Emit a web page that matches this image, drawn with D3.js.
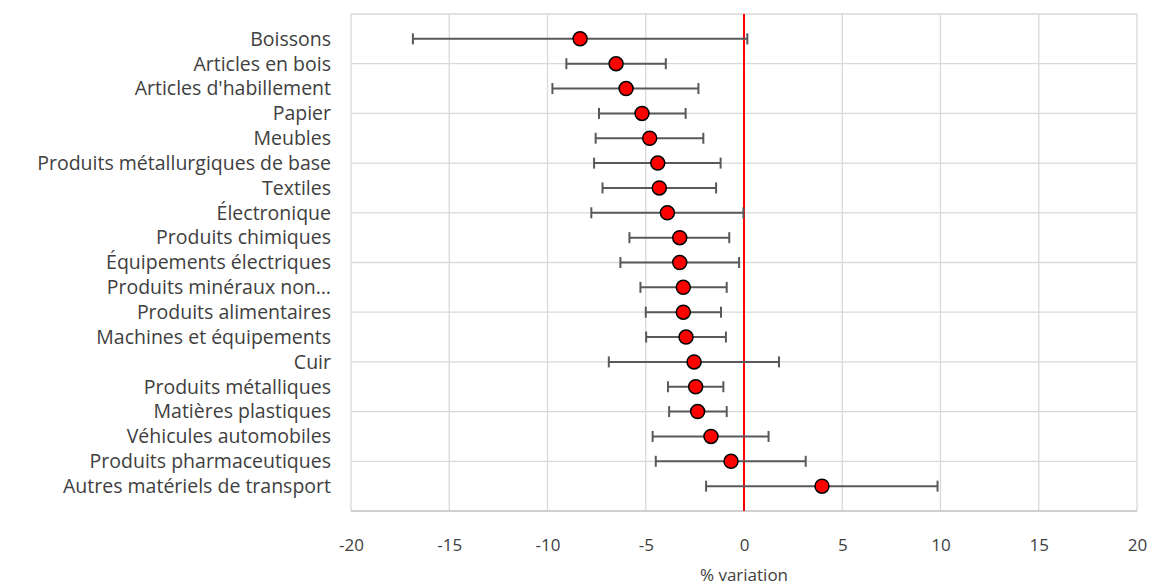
<!DOCTYPE html>
<html lang="fr">
<head>
  <meta charset="UTF-8" />
  <title>% variation par secteur</title>
  <style>
    body { margin: 0; background: #fff; font-family: "Open Sans", sans-serif; }
    svg text { fill: #404040; }
  </style>
</head>
<body>
  <div id="chart"></div>
  <script src="https://d3js.org/d3.v7.min.js"></script>
  <script>
    // sectors, top to bottom
    const sectors = [
      'Boissons', 'Articles en bois', "Articles d'habillement", 'Papier', 'Meubles',
      'Produits métallurgiques de base', 'Textiles', 'Électronique', 'Produits chimiques',
      'Équipements électriques', 'Produits minéraux non…', 'Produits alimentaires',
      'Machines et équipements', 'Cuir', 'Produits métalliques', 'Matières plastiques',
      'Véhicules automobiles', 'Produits pharmaceutiques', 'Autres matériels de transport'
    ];
    const estimate = [-8.34, -6.51, -6.0, -5.19, -4.8, -4.39, -4.31, -3.9, -3.27, -3.27,
      -3.09, -3.09, -2.95, -2.54, -2.46, -2.36, -1.68, -0.66, 3.97];
    const lower = [-16.85, -9.04, -9.75, -7.38, -7.55, -7.63, -7.2, -7.77, -5.83, -6.29,
      -5.27, -5.0, -4.98, -6.88, -3.87, -3.81, -4.65, -4.49, -1.93];
    const upper = [0.17, -3.98, -2.32, -2.97, -2.07, -1.19, -1.42, -0.03, -0.75, -0.25,
      -0.88, -1.17, -0.92, 1.78, -1.05, -0.88, 1.25, 3.14, 9.85];
    const xTicks = [-20, -15, -10, -5, 0, 5, 10, 15, 20];
    const yGrid = d3.range(0, 21, 2);

    const width = 1153, height = 585;
    const plot = { left: 351, right: 1137, top: 14, bottom: 511 };

    const rows = sectors.map((s, i) => ({
      name: s, est: estimate[i], lo: lower[i], hi: upper[i], pos: sectors.length - i
    }));

    const svg = d3.select('#chart').append('svg')
      .attr('width', width).attr('height', height);

    const x = d3.scaleLinear().domain([-20, 20]).range([plot.left, plot.right]);
    const y = d3.scaleLinear().domain([0, 20]).range([plot.bottom, plot.top]);

    // grid
    svg.append('g').selectAll('line.v').data(xTicks).enter().append('line')
      .attr('x1', d => x(d)).attr('x2', d => x(d))
      .attr('y1', plot.top).attr('y2', plot.bottom)
      .attr('stroke', '#d9d9d9').attr('stroke-width', 1.3);
    svg.append('g').selectAll('line.h').data(yGrid).enter().append('line')
      .attr('x1', plot.left).attr('x2', plot.right)
      .attr('y1', d => y(d)).attr('y2', d => y(d))
      .attr('stroke', d => d === 0 ? '#bfbfbf' : '#d9d9d9').attr('stroke-width', 1.3);

    // bottom axis labels
    const xAxis = svg.append('g')
      .attr('transform', `translate(0,${plot.bottom})`)
      .call(d3.axisBottom(x).tickValues(xTicks).tickFormat(d => String(d))
        .tickSize(0).tickPadding(28));
    xAxis.select('.domain').remove();
    xAxis.selectAll('text')
      .style('font-family', '"Open Sans", sans-serif')
      .style('font-size', '17px').attr('fill', '#595959');

    svg.append('text')
      .attr('x', x(0)).attr('y', 581)
      .attr('text-anchor', 'middle')
      .style('font-size', '17px').attr('fill', '#595959')
      .text('% variation');

    // zero line
    svg.append('line')
      .attr('x1', x(0)).attr('x2', x(0))
      .attr('y1', plot.top).attr('y2', plot.bottom)
      .attr('stroke', '#ff0000').attr('stroke-width', 2);

    // error bars
    const eb = svg.append('g').attr('stroke', '#595959').attr('stroke-width', 2);
    eb.selectAll('line.bar').data(rows).enter().append('line')
      .attr('x1', d => x(d.lo)).attr('x2', d => x(d.hi))
      .attr('y1', d => y(d.pos)).attr('y2', d => y(d.pos));
    ['lo', 'hi'].forEach(k => {
      eb.selectAll('line.cap-' + k).data(rows).enter().append('line')
        .attr('x1', d => x(d[k])).attr('x2', d => x(d[k]))
        .attr('y1', d => y(d.pos) - 5.5).attr('y2', d => y(d.pos) + 5.5);
    });

    // points
    svg.append('g').selectAll('circle').data(rows).enter().append('circle')
      .attr('cx', d => x(d.est)).attr('cy', d => y(d.pos)).attr('r', 7)
      .attr('fill', '#ff0000').attr('stroke', '#000').attr('stroke-width', 1.5);

    // category labels
    svg.append('g').selectAll('text').data(rows).enter().append('text')
      .attr('x', 331).attr('y', d => y(d.pos))
      .attr('dy', '0.35em').attr('text-anchor', 'end')
      .style('font-size', '19.5px')
      .text(d => d.name);
  </script>
</body>
</html>
